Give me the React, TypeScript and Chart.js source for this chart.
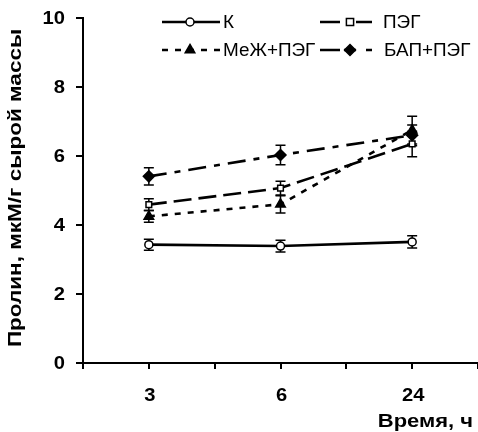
import React, { useEffect, useRef } from "react";
import { Chart, registerables } from "chart.js";

Chart.register(...registerables);

// ---- data ----
const categories = ["3", "6", "24"];
const categoryX = [1, 3, 5];
const seriesNames = ["К", "ПЭГ", "МеЖ+ПЭГ", "БАП+ПЭГ"];
const kValues = [3.43, 3.39, 3.51];
const kErrors = [0.16, 0.17, 0.18];
const pegValues = [4.59, 5.07, 6.35];
const pegErrors = [0.17, 0.2, 0.37];
const mezhValues = [4.25, 4.6, 6.75];
const mezhErrors = [0.17, 0.25, 0.4];
const bapValues = [5.41, 6.03, 6.6];
const bapErrors = [0.25, 0.28, 0.3];
const yTickValues = [0, 2, 4, 6, 8, 10];
const yTitle = "Пролин, мкМ/г сырой массы";
const xTitle = "Время, ч";

const FONT = "'Liberation Sans', Arial, sans-serif";

const styles = [
  { dash: [] as number[], pointStyle: "circle", radius: 4, fill: "#fff" },
  { dash: [18, 7], pointStyle: "rect", radius: 4, fill: "#fff" },
  { dash: [6, 7], pointStyle: "triangle", radius: 5.5, fill: "#000" },
  { dash: [18, 8, 6, 8], pointStyle: "rectRot", radius: 5.5, fill: "#000" },
];

// legend line segments (relative to legend line start)
const legendSegments = [
  [[0, 58]],
  [[0, 20], [36, 52]],
  [[0, 6], [13, 19], [26, 32], [39, 45], [52, 58]],
  [[0, 20], [24, 36], [46, 52]],
];

const allValues = [kValues, pegValues, mezhValues, bapValues];
const allErrors = [kErrors, pegErrors, mezhErrors, bapErrors];

function drawText(
  ctx: CanvasRenderingContext2D,
  text: string,
  x: number,
  y: number,
  sx: number,
  align: "left" | "right" | "center",
  font: string
) {
  ctx.save();
  ctx.font = font;
  ctx.fillStyle = "#000";
  ctx.textBaseline = "middle";
  ctx.textAlign = align;
  ctx.translate(x, y);
  ctx.scale(sx, 1);
  ctx.fillText(text, 0, 0);
  ctx.restore();
}

const errorBarPlugin = {
  id: "errorBars",
  beforeDatasetsDraw(chart: any) {
    const { ctx, scales } = chart;
    const xs = scales.x;
    const ys = scales.y;
    ctx.save();
    ctx.strokeStyle = "#000";
    ctx.lineWidth = 1.5;
    ctx.setLineDash([]);
    allValues.forEach((vals, si) => {
      vals.forEach((v, i) => {
        const e = allErrors[si][i];
        const px = xs.getPixelForValue(categoryX[i]);
        const top = ys.getPixelForValue(v + e);
        const bot = ys.getPixelForValue(v - e);
        ctx.beginPath();
        ctx.moveTo(px, top);
        ctx.lineTo(px, bot);
        ctx.moveTo(px - 5, top);
        ctx.lineTo(px + 5, top);
        ctx.moveTo(px - 5, bot);
        ctx.lineTo(px + 5, bot);
        ctx.stroke();
      });
    });
    ctx.restore();
  },
};

function drawMarker(ctx: CanvasRenderingContext2D, style: string, x: number, y: number, r: number, fill: string) {
  ctx.save();
  ctx.setLineDash([]);
  ctx.fillStyle = fill;
  ctx.strokeStyle = "#000";
  ctx.lineWidth = 1.5;
  ctx.beginPath();
  if (style === "circle") {
    ctx.arc(x, y, r, 0, Math.PI * 2);
  } else if (style === "rect") {
    ctx.rect(x - r * 0.9, y - r * 0.9, r * 1.8, r * 1.8);
  } else if (style === "triangle") {
    ctx.moveTo(x, y - r);
    ctx.lineTo(x + r * 0.87, y + r * 0.5);
    ctx.lineTo(x - r * 0.87, y + r * 0.5);
    ctx.closePath();
  } else {
    ctx.moveTo(x, y - r);
    ctx.lineTo(x + r, y);
    ctx.lineTo(x, y + r);
    ctx.lineTo(x - r, y);
    ctx.closePath();
  }
  ctx.fill();
  ctx.stroke();
  ctx.restore();
}

const legendAndTitlesPlugin = {
  id: "legendTitles",
  afterDraw(chart: any) {
    const { ctx, scales } = chart;
    const slots = [
      { x0: 162, mx: 190, tx: 223, y: 22 },
      { x0: 320, mx: 350, tx: 383, y: 22 },
      { x0: 162, mx: 190, tx: 223, y: 50 },
      { x0: 320, mx: 350, tx: 384, y: 50 },
    ];
    ctx.save();
    seriesNames.forEach((name, i) => {
      const s = slots[i];
      const st = styles[i];
      ctx.strokeStyle = "#000";
      ctx.lineWidth = 2.6;
      ctx.setLineDash([]);
      ctx.beginPath();
      legendSegments[i].forEach(([a, b]) => {
        ctx.moveTo(s.x0 + a, s.y);
        ctx.lineTo(s.x0 + b, s.y);
      });
      ctx.stroke();
      drawMarker(ctx, st.pointStyle, s.mx, s.y, st.radius, st.fill);
      drawText(ctx, name, s.tx, s.y + 1, 1.05, "left", `18px ${FONT}`);
    });
    ctx.restore();

    const tickFont = `bold 18px ${FONT}`;
    yTickValues.forEach((v) => {
      const py = scales.y.getPixelForValue(v);
      drawText(ctx, String(v), 65, py + 1, 1.12, "right", tickFont);
    });
    categories.forEach((c, i) => {
      const px = scales.x.getPixelForValue(categoryX[i]);
      drawText(ctx, c, px + 1, 396, 1.12, "center", tickFont);
    });
    drawText(ctx, xTitle, 473, 422, 1.22, "right", tickFont);
    ctx.save();
    ctx.translate(16, 188);
    ctx.rotate(-Math.PI / 2);
    drawText(ctx, yTitle, 0, 0, 1.25, "center", tickFont);
    ctx.restore();
  },
};

export default function App() {
  const ref = useRef<HTMLCanvasElement | null>(null);
  useEffect(() => {
    document.body.style.margin = "0";
    if (!ref.current) return;
    const datasets = allValues.map((vals, si) => ({
      label: seriesNames[si],
      data: vals.map((v, i) => ({ x: categoryX[i], y: v })),
      borderColor: "#000",
      borderWidth: 2.6,
      borderDash: styles[si].dash,
      backgroundColor: styles[si].fill,
      pointStyle: styles[si].pointStyle,
      pointRadius: styles[si].radius,
      pointBorderWidth: 1.5,
      pointBorderColor: "#000",
      pointBackgroundColor: styles[si].fill,
      tension: 0,
      fill: false,
      clip: false,
    }));
    const chart = new Chart(ref.current, {
      type: "line",
      data: { datasets },
      plugins: [errorBarPlugin, legendAndTitlesPlugin],
      options: {
        animation: false,
        responsive: false,
        maintainAspectRatio: false,
        layout: { autoPadding: false, padding: { top: 18, right: 0, left: 0, bottom: 0 } },
        plugins: { legend: { display: false }, tooltip: { enabled: false } },
        scales: {
          x: {
            type: "linear",
            min: 0,
            max: 6,
            afterFit: (s: any) => {
              s.height = 69;
              s.paddingLeft = 0;
              s.paddingRight = 0;
            },
            afterBuildTicks: (s: any) => {
              s.ticks = [0, 1, 2, 3, 4, 5, 6].map((v) => ({ value: v }));
            },
            ticks: { display: false },
            grid: { display: true, drawOnChartArea: false, drawTicks: true, tickLength: 6, color: "#000", lineWidth: 2 },
            border: { display: true, color: "#000", width: 2 },
          },
          y: {
            min: 0,
            max: 10,
            afterFit: (s: any) => {
              s.width = 83;
              s.paddingTop = 0;
              s.paddingBottom = 0;
            },
            afterBuildTicks: (s: any) => {
              s.ticks = yTickValues.map((v) => ({ value: v }));
            },
            ticks: { display: false },
            grid: { display: true, drawOnChartArea: false, drawTicks: true, tickLength: 7, color: "#000", lineWidth: 2 },
            border: { display: true, color: "#000", width: 2 },
          },
        },
      } as any,
    });
    return () => chart.destroy();
  }, []);
  return (
    <div style={{ position: "absolute", left: 0, top: 0, width: 478, height: 432 }}>
      <canvas ref={ref} width={478} height={432} style={{ width: 478, height: 432, display: "block" }} />
    </div>
  );
}
